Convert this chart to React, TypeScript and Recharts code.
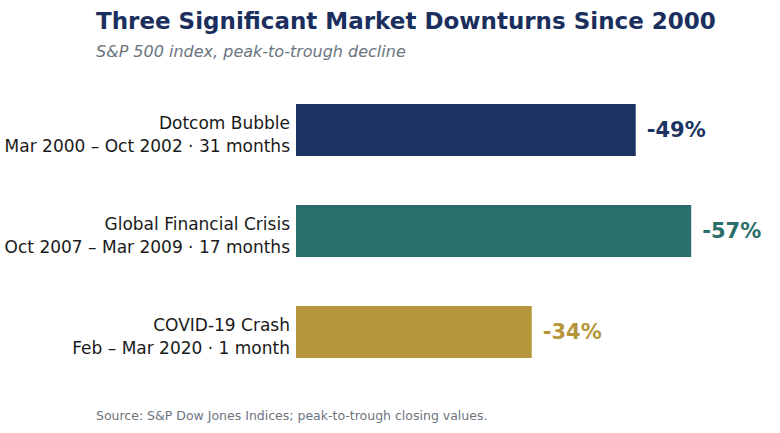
import { BarChart, Bar, XAxis, YAxis, Cell, LabelList } from "recharts"

const events = ["Dotcom Bubble", "Global Financial Crisis", "COVID-19 Crash"]
const periods = ["Mar 2000 – Oct 2002 · 31 months", "Oct 2007 – Mar 2009 · 17 months", "Feb – Mar 2020 · 1 month"]
const declines = [49, 57, 34]
const colors = ["#1c3461", "#2a6e6c", "#b5963a"]

const data = events.map((name, i) => ({ name, period: periods[i], value: declines[i] }))

const font = "DejaVu Sans, sans-serif"

function CategoryTick(props: any) {
  const { y, payload } = props
  const row = data[payload.index]
  return (
    <g>
      <text x={290} y={y - 1} textAnchor="end" fontSize={17} fill="#1a1a1a" fontFamily={font}>{row.name}</text>
      <text x={290} y={y + 22} textAnchor="end" fontSize={17} fill="#1a1a1a" fontFamily={font}>{row.period}</text>
    </g>
  )
}

function ValueLabel(props: any) {
  const { x, y, width, height, index } = props
  return (
    <text x={x + width + 11} y={y + height / 2 + 7} fontSize={21} fontWeight="bold" fill={colors[index]} fontFamily={font}>
      -{declines[index]}%
    </text>
  )
}

export default function App() {
  return (
    <div style={{ position: "absolute", left: 0, top: 0, width: 780, height: 433, background: "#fff", fontFamily: font }}>
      <div style={{ position: "absolute", left: 96, top: 8, fontSize: 23, fontWeight: "bold", color: "#1b2f5e", whiteSpace: "nowrap" }}>
        Three Significant Market Downturns Since 2000
      </div>
      <div style={{ position: "absolute", left: 96, top: 42, fontSize: 16, fontStyle: "italic", color: "#6b7480", whiteSpace: "nowrap" }}>
        S&amp;P 500 index, peak-to-trough decline
      </div>
      <div style={{ position: "absolute", left: 0, top: 0 }}>
        <BarChart width={780} height={433} data={data} layout="vertical" margin={{ top: 79, right: 68, bottom: 51, left: 0 }}>
          <XAxis type="number" domain={[0, 60]} hide />
          <YAxis type="category" dataKey="name" width={296} axisLine={false} tickLine={false} tick={<CategoryTick />} />
          <Bar dataKey="value" barSize={52} isAnimationActive={false}>
            {data.map((d, i) => <Cell key={d.name} fill={colors[i]} />)}
            <LabelList dataKey="value" content={<ValueLabel />} />
          </Bar>
        </BarChart>
      </div>
      <div style={{ position: "absolute", left: 96, top: 408, fontSize: 12.5, color: "#6b7480", whiteSpace: "nowrap" }}>
        Source: S&amp;P Dow Jones Indices; peak-to-trough closing values.
      </div>
    </div>
  )
}
